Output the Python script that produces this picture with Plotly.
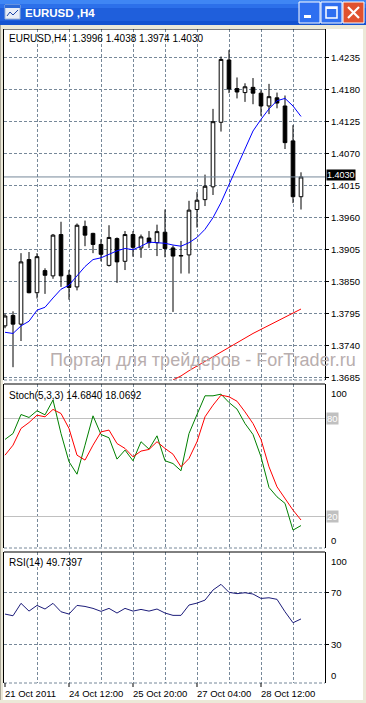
import plotly.graph_objects as go

W, H = 366, 703
ML, MR, MT, MB = 4, 41, 29, 20
PW = W - ML - MR
PH = H - MT - MB


def px_x(X):
    return (X - ML) / PW


def px_y(Y):
    return (H - MB - Y) / PH


FONT = "Liberation Sans, Arial, sans-serif"
GRID = "#778899"
GRIDDASH = "3px,2px"

# ---------------- data ----------------
bars = list(range(38))
opens = [1.3774, 1.3792, 1.3777, 1.3888, 1.3831, 1.3869, 1.3860, 1.3931, 1.3861, 1.3841,
         1.3945, 1.3933, 1.3914, 1.3878, 1.3924, 1.3885, 1.3931, 1.3908, 1.3925, 1.3917,
         1.3935, 1.3908, 1.3894, 1.3896, 1.3974, 1.3991, 1.4013, 1.4124, 1.4231, 1.4182,
         1.4175, 1.4184, 1.4174, 1.4152, 1.4166, 1.4152, 1.4092, 1.3996]
highs = [1.3795, 1.3799, 1.3899, 1.3901, 1.3899, 1.3873, 1.3932, 1.3953, 1.3870, 1.3950,
         1.3955, 1.3934, 1.3923, 1.3947, 1.3926, 1.3937, 1.3937, 1.3931, 1.3937, 1.3948,
         1.3974, 1.3912, 1.3920, 1.3989, 1.4004, 1.4034, 1.4147, 1.4237, 1.4248, 1.4201,
         1.4191, 1.4200, 1.4179, 1.4190, 1.4175, 1.4170, 1.4119, 1.4038]
lows = [1.3770, 1.3703, 1.3748, 1.3830, 1.3821, 1.3829, 1.3855, 1.3841, 1.3819, 1.3835,
        1.3911, 1.3899, 1.3885, 1.3876, 1.3848, 1.3870, 1.3893, 1.3891, 1.3908, 1.3894,
        1.3892, 1.3798, 1.3864, 1.3864, 1.3943, 1.3980, 1.3999, 1.4108, 1.4174, 1.4165,
        1.4159, 1.4155, 1.4135, 1.4138, 1.4148, 1.4078, 1.3985, 1.3974]
closes = [1.3791, 1.3777, 1.3884, 1.3831, 1.3893, 1.3861, 1.3930, 1.3860, 1.3840, 1.3947,
          1.3930, 1.3914, 1.3897, 1.3926, 1.3884, 1.3931, 1.3909, 1.3927, 1.3917, 1.3936,
          1.3907, 1.3894, 1.3895, 1.3973, 1.3990, 1.4014, 1.4125, 1.4232, 1.4181, 1.4176,
          1.4185, 1.4174, 1.4152, 1.4168, 1.4157, 1.4089, 1.3996, 1.4030]

ma_fast = [1.3763, 1.3761, 1.3774, 1.3782, 1.3801, 1.3806, 1.3822, 1.3837, 1.3844, 1.3860,
           1.3876, 1.3888, 1.3891, 1.3897, 1.3903, 1.3907, 1.3905, 1.3911, 1.3918, 1.3917,
           1.3916, 1.3913, 1.3911, 1.3917, 1.3926, 1.3940, 1.3960, 1.3986, 1.4017, 1.4049,
           1.4080, 1.4109, 1.4129, 1.4147, 1.4161, 1.4165, 1.4152, 1.4134]

ma_slow_bars = list(range(21, 38))
ma_slow = [1.3681, 1.3688, 1.3697, 1.3705, 1.3713, 1.3721, 1.3730, 1.3738, 1.3746,
           1.3754, 1.3761, 1.3768, 1.3775, 1.3782, 1.3789, 1.3796, 1.3803]

stoch_k = [67.2, 70.8, 82.4, 80.6, 84.7, 82.2, 91.2, 70.8, 53.6, 46.0,
           63.7, 81.6, 70.2, 68.2, 55.2, 60.7, 54.2, 65.8, 61.3, 69.4,
           54.2, 52.5, 48.1, 70.8, 82.4, 93.8, 93.8, 94.8, 89.7, 85.7,
           76.9, 70.2, 56.6, 37.9, 32.2, 28.2, 11.9, 14.6840]
stoch_d = [57.6, 63.7, 73.9, 77.5, 82.0, 81.0, 85.5, 83.0, 73.9, 57.6,
           54.6, 63.7, 71.8, 72.9, 64.7, 61.7, 56.6, 60.1, 61.1, 65.8,
           61.7, 58.2, 50.5, 55.6, 65.8, 81.0, 88.1, 94.2, 93.2, 90.5,
           84.0, 76.9, 67.2, 50.5, 38.3, 31.2, 24.1, 18.0692]
rsi = [53.5, 52.2, 61.8, 55.8, 60.2, 57.4, 61.8, 55.3, 53.5, 60.2,
       59.4, 57.9, 55.6, 57.9, 54.3, 57.9, 55.8, 57.1, 55.8, 57.4,
       54.3, 52.5, 52.5, 60.5, 62.0, 64.3, 72.1, 76.5, 70.3, 69.3,
       70.0, 69.0, 65.6, 66.1, 64.9, 55.3, 46.8, 49.7397]

price_ticks = [1.4235, 1.4180, 1.4125, 1.4070, 1.4015, 1.3960, 1.3905, 1.3850,
               1.3795, 1.3740, 1.3685]
grid_bars = [4, 8, 12, 16, 20, 24, 28, 32, 36]
x_tick_bars = [0, 8, 16, 24, 32]
x_tick_labels = ["21 Oct 2011", "24 Oct 12:00", "25 Oct 20:00", "27 Oct 04:00", "28 Oct 12:00"]
stoch_levels = [20, 80]
rsi_levels = [30, 70]

symbol = "EURUSD,H4"
window_title = "EURUSD ,H4"
watermark = "Портал для трейдеров - ForTrader.ru"

# ---------------- figure ----------------
fig = go.Figure()

# current price line (drawn as a trace so it sits under the candles)
fig.add_trace(go.Scatter(x=[-0.125, 40.0], y=[closes[-1], closes[-1]], mode="lines",
                         line=dict(color=GRID, width=1), xaxis="x", yaxis="y",
                         hoverinfo="skip"))
fig.add_trace(go.Scatter(x=ma_slow_bars, y=ma_slow, mode="lines",
                         line=dict(color="#ff0000", width=1), xaxis="x", yaxis="y",
                         hoverinfo="skip"))
fig.add_trace(go.Scatter(x=bars, y=ma_fast, mode="lines",
                         line=dict(color="#0000ff", width=1), xaxis="x", yaxis="y",
                         hoverinfo="skip"))
fig.add_trace(go.Candlestick(
    x=bars, open=opens, high=highs, low=lows, close=closes,
    increasing=dict(line=dict(color="black", width=1), fillcolor="white"),
    decreasing=dict(line=dict(color="black", width=1), fillcolor="black"),
    whiskerwidth=0, xaxis="x", yaxis="y"))

fig.add_trace(go.Scatter(x=bars, y=stoch_k, mode="lines",
                         line=dict(color="#008000", width=1), xaxis="x2", yaxis="y2"))
fig.add_trace(go.Scatter(x=bars, y=stoch_d, mode="lines",
                         line=dict(color="#ff0000", width=1), xaxis="x2", yaxis="y2"))
fig.add_trace(go.Scatter(x=bars, y=rsi, mode="lines",
                         line=dict(color="#1c1c7a", width=1), xaxis="x3", yaxis="y3"))

xr = [-0.125, 40.0]
xcommon = dict(range=xr, tickvals=grid_bars, showticklabels=False, ticks="",
               showgrid=True, gridcolor=GRID, griddash=GRIDDASH, gridwidth=1,
               showline=False, zeroline=False, fixedrange=True)

d_main = [px_y(380), 1.0]
d_sto = [px_y(548), px_y(384)]
d_rsi = [0.0, px_y(552)]

fig.update_layout(
    width=W, height=H,
    margin=dict(l=ML, r=MR, t=MT, b=MB, pad=0),
    paper_bgcolor="white", plot_bgcolor="white",
    showlegend=False, boxgap=0.35,
    font=dict(family=FONT, size=10, color="black"),
    xaxis=dict(**xcommon, anchor="y", rangeslider=dict(visible=False)),
    xaxis2=dict(**xcommon, anchor="y2", matches="x"),
    xaxis3=dict(**xcommon, anchor="y3", matches="x"),
    yaxis=dict(domain=d_main, range=[1.36810, 1.42843], side="right",
               tickvals=price_ticks, ticktext=[f"{v:.4f}" for v in price_ticks],
               ticks="outside", ticklen=3, tickcolor="black",
               tickfont=dict(family=FONT, size=9.5, color="black"),
               showgrid=True, gridcolor=GRID, griddash=GRIDDASH,
               showline=True, mirror=True, linecolor="black", linewidth=1,
               zeroline=False, fixedrange=True),
    yaxis2=dict(domain=d_sto, range=[1, 101], side="right", anchor="x2",
                tickvals=stoch_levels, showticklabels=False, ticks="",
                showgrid=True, gridcolor="#c0c0c0", griddash="solid",
                showline=True, mirror=True, linecolor="black", linewidth=1,
                zeroline=False, fixedrange=True),
    yaxis3=dict(domain=d_rsi, range=[0.2, 101.5], side="right", anchor="x3",
                tickvals=rsi_levels, showticklabels=False, ticks="outside",
                ticklen=3, tickcolor="black",
                showgrid=True, gridcolor=GRID, griddash=GRIDDASH,
                showline=True, mirror=True, linecolor="black", linewidth=1,
                zeroline=False, fixedrange=True),
)

shapes = []
# panel top borders (black) and bottom borders (dashed grey)
for d in (d_main, d_sto, d_rsi):
    shapes.append(dict(type="line", xref="paper", yref="paper", x0=0, x1=1,
                       y0=d[1], y1=d[1], line=dict(color="black", width=1)))
    shapes.append(dict(type="line", xref="paper", yref="paper", x0=0, x1=1,
                       y0=d[0], y1=d[0], line=dict(color=GRID, width=1, dash=GRIDDASH)))
# time tick marks
for b in x_tick_bars:
    shapes.append(dict(type="line", xref="x3", yref="paper", x0=b, x1=b,
                       y0=px_y(683), y1=px_y(687), line=dict(color="black", width=1)))


# window chrome
def rect(X0, Y0, X1, Y1, fill, line=None, lw=0):
    return dict(type="rect", xref="paper", yref="paper", layer="above",
                x0=px_x(X0), x1=px_x(X1), y0=px_y(Y1), y1=px_y(Y0),
                fillcolor=fill, line=dict(color=line or fill, width=lw))


def seg(X0, Y0, X1, Y1, color, w=1):
    return dict(type="line", xref="paper", yref="paper", layer="above",
                x0=px_x(X0), x1=px_x(X1), y0=px_y(Y0), y1=px_y(Y1),
                line=dict(color=color, width=w))


shapes += [
    rect(0, 25, W, 29, "#ece9d8"),
    rect(0, 25, 3, H, "#ece9d8"),
    seg(0.5, 25, 0.5, H, "#aca899"),
    rect(363, 25, W, H, "#ece9d8"),
    rect(0, 700, W, H, "#ece9d8"),
    rect(0, 0, W, 25, "#1f5fdc"),
    rect(0, 0, W, 4, "#3f86f4"),
    rect(0, 4, W, 8, "#2c70ea"),
    rect(0, 21, W, 25, "#1453d0"),
    # icon
    rect(5, 5, 20, 19, "#e8eef8", "#9fb5d8", 1),
    rect(5, 5, 20, 8, "#2c6ad8"),
    seg(7, 16, 10, 12, "#2048a8"), seg(10, 12, 13, 15, "#2048a8"),
    seg(13, 15, 18, 10, "#2048a8"),
    # buttons
    rect(299, 2, 320, 23, "#2f6ff0", "white", 1),
    rect(321, 2, 342, 23, "#2f6ff0", "white", 1),
    rect(343, 2, 364, 23, "#e0522f", "white", 1),
    rect(304, 15, 311, 18, "white"),
    rect(326, 7, 337, 18, "rgba(0,0,0,0)", "white", 1.5),
    rect(326, 7, 337, 9, "white"),
    seg(348, 7, 359, 18, "white", 2.2), seg(359, 7, 348, 18, "white", 2.2),
]

anns = []
anns.append(dict(xref="paper", yref="paper", x=px_x(23), y=px_y(13), xanchor="left",
                 yanchor="middle", showarrow=False, text=f"<b>{window_title}</b>",
                 font=dict(family=FONT, size=11.5, color="white")))
anns.append(dict(xref="paper", yref="paper", x=px_x(7), y=px_y(38), xanchor="left",
                 yanchor="middle", showarrow=False,
                 text=f"{symbol}  {opens[-1]:.4f} {highs[-1]:.4f} {lows[-1]:.4f} {closes[-1]:.4f}",
                 font=dict(family=FONT, size=10, color="black")))
anns.append(dict(xref="paper", yref="paper", x=px_x(7), y=px_y(395), xanchor="left",
                 yanchor="middle", showarrow=False,
                 text=f"Stoch(5,3,3) {stoch_k[-1]:.4f} {stoch_d[-1]:.4f}",
                 font=dict(family=FONT, size=10, color="black")))
anns.append(dict(xref="paper", yref="paper", x=px_x(7), y=px_y(562), xanchor="left",
                 yanchor="middle", showarrow=False,
                 text=f"RSI(14) {rsi[-1]:.4f}",
                 font=dict(family=FONT, size=10, color="black")))
# watermark
anns.append(dict(xref="paper", yref="paper", x=px_x(203), y=px_y(360), xanchor="center",
                 yanchor="middle", showarrow=False, text=watermark,
                 font=dict(family=FONT, size=18, color="#b8aeae")))
# current price box
anns.append(dict(xref="paper", yref="y", x=px_x(326), y=closes[-1], xanchor="left",
                 yanchor="middle", showarrow=False, text=f"{closes[-1]:.4f}",
                 bgcolor="black", borderpad=0, yshift=1.5,
                 font=dict(family=FONT, size=9, color="white")))
# stochastic scale labels
LX = px_x(329)
anns.append(dict(xref="paper", yref="y2", x=LX, y=100, xanchor="left", yanchor="top",
                 showarrow=False, text="100", font=dict(family=FONT, size=9.5)))
anns.append(dict(xref="paper", yref="y2 domain", x=LX, y=0, xanchor="left", yanchor="bottom",
                 showarrow=False, text="0", font=dict(family=FONT, size=9.5)))
for lv in stoch_levels:
    anns.append(dict(xref="paper", yref="y2", x=px_x(326), y=lv, xanchor="left",
                     yanchor="middle", showarrow=False, text=str(lv), bgcolor="#c0c0c0",
                     borderpad=0, font=dict(family=FONT, size=9.5, color="white")))
# rsi scale labels
anns.append(dict(xref="paper", yref="y3", x=LX, y=100, xanchor="left", yanchor="top",
                 showarrow=False, text="100", font=dict(family=FONT, size=9.5)))
anns.append(dict(xref="paper", yref="y3 domain", x=LX, y=0, xanchor="left", yanchor="bottom",
                 showarrow=False, text="0", font=dict(family=FONT, size=9.5)))
for lv in rsi_levels:
    anns.append(dict(xref="paper", yref="y3", x=LX, y=lv, xanchor="left",
                     yanchor="middle", showarrow=False, text=str(lv),
                     font=dict(family=FONT, size=9.5)))
# time labels
for b, t in zip(x_tick_bars, x_tick_labels):
    anns.append(dict(xref="x3", yref="paper", x=b, y=px_y(693), xanchor="left",
                     yanchor="middle", xshift=-2, showarrow=False, text=t,
                     font=dict(family=FONT, size=9.5)))

fig.update_layout(shapes=shapes, annotations=anns)
fig.write_html("out.html")
